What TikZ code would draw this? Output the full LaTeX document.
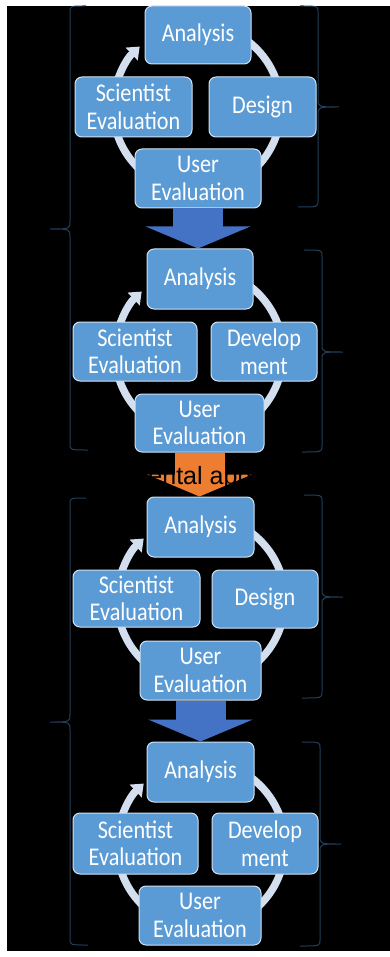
\documentclass[tikz,border=0pt]{standalone}
\usepackage{fontspec}
\newfontfamily\boxfont[FakeStretch=0.87]{Carlito}
\newfontfamily\notefont{Liberation Sans}
\usetikzlibrary{arrows.meta}
\definecolor{boxfill}{HTML}{5B9BD5}
\definecolor{boxedge}{HTML}{D2E1F2}
\definecolor{ringcol}{HTML}{D3DEEE}
\definecolor{bluearr}{HTML}{4472C4}
\definecolor{orangearr}{HTML}{ED7D31}
\definecolor{bracecol}{HTML}{233F5C}
\tikzset{
    box/.style={draw=boxedge, fill=boxfill, line width=1pt, rounded corners=7pt, inner sep=0pt,
        align=center, text=white, font=\boxfont\fontsize{25.5}{27.5}\selectfont},
    ring/.style={draw=ringcol, line width=7.5pt, -{Triangle[width=17pt,length=11pt]}},
    blockarr/.style={line width=50pt, -{Triangle[width=104pt,length=22pt]}},
    brace/.style={draw=bracecol, line width=1pt}
}
\newcommand{\bracelt}[4]{\draw[brace] (#1+16,#2) .. controls (#1,#2) .. (#1,#2+6) -- (#1,#3-8)
    .. controls (#1,#3) .. (#1-20,#3) .. controls (#1,#3) .. (#1,#3+8) -- (#1,#4-6)
    .. controls (#1,#4) .. (#1+18,#4);}
\newcommand{\bracert}[4]{\draw[brace] (#1-18,#2) .. controls (#1,#2) .. (#1,#2+6) -- (#1,#3-8)
    .. controls (#1,#3) .. (#1+21,#3) .. controls (#1,#3) .. (#1,#3+8) -- (#1,#4-6)
    .. controls (#1,#4) .. (#1-20,#4);}
\begin{document}
\begin{tikzpicture}[x=1pt, y=-1pt]
        \useasboundingbox (0,0) rectangle (390,957);
        \fill[white] (0,0) rectangle (390,957);
        \fill[black] (7,6) rectangle (390,951);
        \bracelt{70}{6}{229}{450}
        \bracelt{70}{498}{722}{945}
        \bracert{318}{6}{107}{207}
        \bracert{322}{250}{352}{452}
        \bracert{322}{495}{597}{698}
        \bracert{320}{742}{844}{946}
        \coordinate (c1mid) at (197,108);
        \coordinate (c2mid) at (199,353);
        \coordinate (c3mid) at (201,600);
        \coordinate (c4mid) at (201,845);
        \foreach \c in {c1mid, c2mid, c3mid, c4mid}
            \draw[ring] (\c) ++(-80:84) arc[start angle=-80, end angle=227, radius=84];
        \node[box, minimum width=106pt, minimum height=58pt] (c1ana) at (198,35) {Analysis};
        \node[box, minimum width=117pt, minimum height=60pt] (c1sci) at (133.5,107) {Scientist\\Evaluation};
        \node[box, minimum width=107pt, minimum height=60pt] (c1des) at (262.5,107) {Design};
        \node[box, minimum width=126pt, minimum height=59pt] (c1usr) at (198,178.5) {User\\Evaluation};
        \node[box, minimum width=106pt, minimum height=60pt] (c2ana) at (200,279) {Analysis};
        \node[box, minimum width=124pt, minimum height=59pt] (c2sci) at (135,351.5) {Scientist\\Evaluation};
        \node[box, minimum width=106pt, minimum height=59pt] (c2dev) at (264,351.5) {Develop\\ment};
        \node[box, minimum width=129pt, minimum height=58pt] (c2usr) at (199.5,423) {User\\Evaluation};
        \node[box, minimum width=107pt, minimum height=60pt] (c3ana) at (200.5,527) {Analysis};
        \node[box, minimum width=127pt, minimum height=57pt] (c3sci) at (136.5,598.5) {Scientist\\Evaluation};
        \node[box, minimum width=106pt, minimum height=58pt] (c3des) at (265,599) {Design};
        \node[box, minimum width=121pt, minimum height=59pt] (c3usr) at (200.5,670.5) {User\\Evaluation};
        \node[box, minimum width=107pt, minimum height=60pt] (c4ana) at (200.5,772) {Analysis};
        \node[box, minimum width=125pt, minimum height=61pt] (c4sci) at (135.5,843.5) {Scientist\\Evaluation};
        \node[box, minimum width=106pt, minimum height=61pt] (c4dev) at (265,843.5) {Develop\\ment};
        \node[box, minimum width=122pt, minimum height=59pt] (c4usr) at (200,915.5) {User\\Evaluation};
        \draw[blockarr, bluearr] (c1usr.south) -- (c1usr.south |- c2ana.north);
        \draw[blockarr, orangearr] (c2usr.south) -- (c2usr.south |- c3ana.north);
        \draw[blockarr, bluearr] (c3usr.south) -- (c3usr.south |- c4ana.north);
        \node[anchor=base, text=black, font=\notefont\fontsize{25}{30}\selectfont] (appr) at (193,484) {Incremental approach};
    \end{tikzpicture}
\end{document}
